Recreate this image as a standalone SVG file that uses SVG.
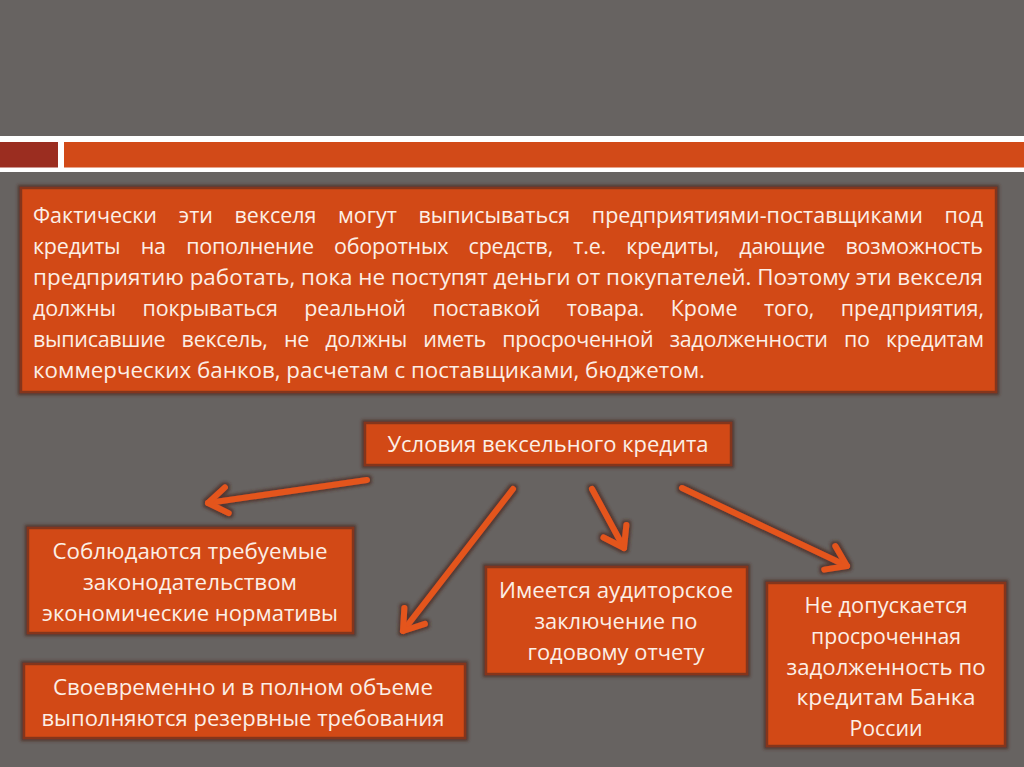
<svg xmlns="http://www.w3.org/2000/svg" width="1024" height="767" viewBox="0 0 1024 767">
<defs>
<style>
.box{fill:#d24a18;stroke:#84341f;stroke-width:2.5;filter:url(#glow)}
.t{font-family:"Open Sans","Noto Sans","DejaVu Sans",sans-serif;font-size:21.5px;fill:#fcefe6}
.c{text-anchor:middle}
.conn{fill:none;stroke:#e4541d;stroke-width:6;stroke-linecap:round;stroke-linejoin:round}
</style>
<filter id="glow" x="-10%" y="-20%" width="120%" height="140%">
<feMorphology in="SourceAlpha" operator="dilate" radius="2" result="d"/>
<feGaussianBlur in="d" stdDeviation="1.5" result="b"/>
<feFlood flood-color="#4a2a22" flood-opacity="0.75"/>
<feComposite in2="b" operator="in" result="s"/>
<feMerge><feMergeNode in="s"/><feMergeNode in="SourceGraphic"/></feMerge>
</filter>
<marker id="arr" markerUnits="userSpaceOnUse" viewBox="-30 -20 40 40" markerWidth="40" markerHeight="40" refX="0" refY="0" orient="auto">
<path d="M-19,-13 L0,0 L-19,13" fill="none" stroke="#e4541d" stroke-width="6" stroke-linecap="round" stroke-linejoin="round"/>
</marker>
</defs>
<rect width="1024" height="767" fill="#676361"/>
<g id="banner">
<rect x="0" y="136" width="1024" height="36" fill="#ffffff"/>
<rect x="0" y="142" width="58" height="25.5" fill="#9b2d20"/>
<rect x="64" y="142" width="960" height="25.5" fill="#d24a18"/>
</g>
<g id="intro">
<rect class="box" x="21" y="188" width="975" height="204"/>
<text class="t" x="33" y="223" word-spacing="16" textLength="950" lengthAdjust="spacing">Фактически эти векселя могут выписываться предприятиями-поставщиками под</text>
<text class="t" x="33" y="254" word-spacing="15" textLength="950" lengthAdjust="spacing">кредиты на пополнение оборотных средств, т.е. кредиты, дающие возможность</text>
<text class="t" x="33" y="285" textLength="950" lengthAdjust="spacingAndGlyphs">предприятию работать, пока не поступят деньги от покупателей. Поэтому эти векселя</text>
<text class="t" x="33" y="316" word-spacing="21" textLength="951" lengthAdjust="spacing">должны покрываться реальной поставкой товара. Кроме того, предприятия,</text>
<text class="t" x="33" y="347" word-spacing="11" textLength="951" lengthAdjust="spacing">выписавшие вексель, не должны иметь просроченной задолженности по кредитам</text>
<text class="t" x="33" y="378" textLength="672" lengthAdjust="spacingAndGlyphs">коммерческих банков, расчетам с поставщиками, бюджетом.</text>
</g>
<g id="root">
<rect class="box" x="365" y="423" width="366" height="42"/>
<text class="t c" x="548" y="452" textLength="321" lengthAdjust="spacingAndGlyphs">Условия вексельного кредита</text>
</g>
<g id="norms">
<rect class="box" x="28" y="528" width="325" height="105"/>
<text class="t c" x="190" y="559" textLength="275" lengthAdjust="spacingAndGlyphs">Соблюдаются требуемые</text>
<text class="t c" x="190" y="590" textLength="214" lengthAdjust="spacingAndGlyphs">законодательством</text>
<text class="t c" x="190" y="621" textLength="296" lengthAdjust="spacingAndGlyphs">экономические нормативы</text>
</g>
<g id="reserve">
<rect class="box" x="24" y="664" width="441" height="74"/>
<text class="t c" x="243" y="695" textLength="380" lengthAdjust="spacingAndGlyphs">Своевременно и в полном объеме</text>
<text class="t c" x="243" y="726" textLength="403" lengthAdjust="spacingAndGlyphs">выполняются резервные требования</text>
</g>
<g id="audit">
<rect class="box" x="486" y="567" width="261" height="107"/>
<text class="t c" x="616" y="598" textLength="234" lengthAdjust="spacingAndGlyphs">Имеется аудиторское</text>
<text class="t c" x="616" y="629" textLength="163" lengthAdjust="spacingAndGlyphs">заключение по</text>
<text class="t c" x="616" y="660" textLength="177" lengthAdjust="spacingAndGlyphs">годовому отчету</text>
</g>
<g id="overdue">
<rect class="box" x="767" y="583" width="238" height="163"/>
<text class="t c" x="886" y="613" textLength="163" lengthAdjust="spacingAndGlyphs">Не допускается</text>
<text class="t c" x="886" y="644" textLength="150" lengthAdjust="spacingAndGlyphs">просроченная</text>
<text class="t c" x="886" y="675" textLength="199" lengthAdjust="spacingAndGlyphs">задолженность по</text>
<text class="t c" x="886" y="705" textLength="179" lengthAdjust="spacingAndGlyphs">кредитам Банка</text>
<text class="t c" x="886" y="736" textLength="73" lengthAdjust="spacingAndGlyphs">России</text>
</g>
<g id="connectors" filter="url(#glow)">
<path class="conn" d="M367,480 L208,503" marker-end="url(#arr)"/>
<path class="conn" d="M513,489 L403,631" marker-end="url(#arr)"/>
<path class="conn" d="M592,489 L624,548" marker-end="url(#arr)"/>
<path class="conn" d="M682,488 L847,566" marker-end="url(#arr)"/>
</g>
</svg>
